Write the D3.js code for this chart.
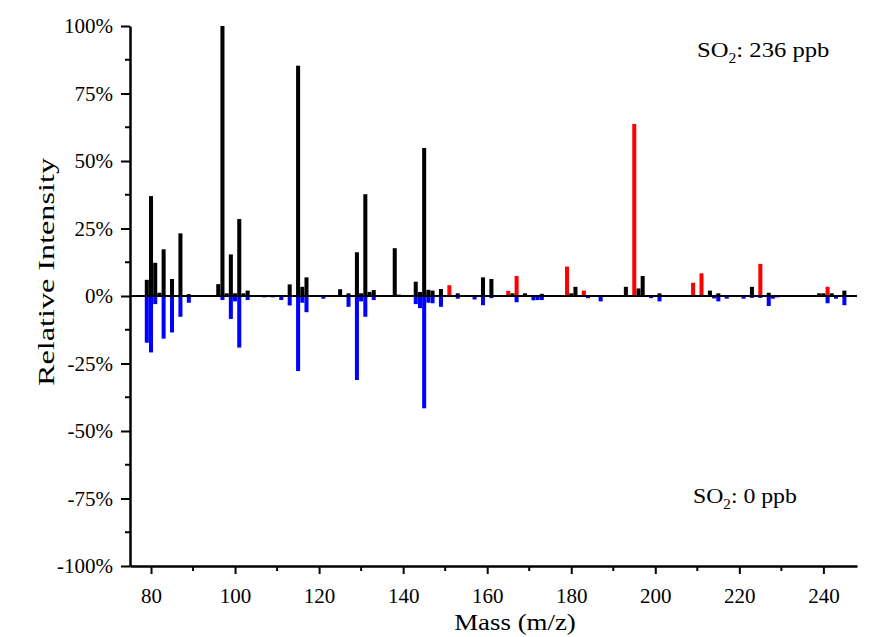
<!DOCTYPE html>
<html>
<head>
<meta charset="utf-8">
<script src="https://cdn.jsdelivr.net/npm/d3@7"></script>
<style>
  body { margin: 0; background: #fff; }
  text { font-family: "Liberation Serif", "Times New Roman", serif; fill: #000; }
</style>
</head>
<body>
<div id="vis"></div>
<script>
// mass spectra, relative intensity in %
// SO2 236 ppb, black peaks
let blackMass = [79, 80, 81, 82, 83, 85, 87, 89, 96, 97, 98, 99, 100, 101, 102, 103,
  113, 115, 116, 117, 125, 127, 129, 130, 131, 132, 133, 138, 139, 143, 144, 145, 146, 147, 149,
  153, 159, 161, 166, 169, 173, 180, 181, 193, 196, 197, 201, 213, 215, 223, 227, 239, 240, 242, 245]
let blackVal = [6, 37, 12.3, 1.2, 17.3, 6.3, 23.2, 0.7, 4.4, 100, 1, 15.4, 1, 28.5, 1, 2,
  4.3, 85.3, 3.4, 6.9, 2.5, 1, 16.2, 1, 37.7, 1.5, 2.2, 17.7, 0.5, 5.3, 1.5, 54.8, 2.3, 2, 2.6,
  1, 6.9, 6.3, 1, 1, 0.8, 1, 3.4, 3.4, 2.8, 7.4, 1, 2, 1, 3.4, 1.2, 1, 1, 1, 2]
// SO2 236 ppb, red peaks (new)
let redMass = [151, 165, 167, 179, 183, 195, 209, 211, 225, 241]
let redVal = [4, 1.9, 7.4, 10.9, 2, 63.7, 4.9, 8.4, 11.9, 3.4]
// SO2 0 ppb, blue peaks (plotted downward)
let blueMass = [79, 80, 81, 83, 85, 87, 89, 93, 97, 99, 100, 101, 103, 107, 109, 111, 113, 115, 116, 117,
  121, 127, 129, 130, 131, 133, 143, 144, 145, 146, 147, 149, 153, 157, 159, 161, 167, 171, 172, 173,
  184, 187, 199, 201, 214, 215, 217, 221, 223, 225, 227, 228, 229, 233, 239, 241, 243, 245]
let blueVal = [-17.3, -20.9, -3, -15.8, -13.5, -7.7, -2.5, -0.3, -1.5, -8.5, -2, -19.1, -1.5, -0.5, -0.5, -1.5, -3.5, -27.8, -2.5, -6,
  -1, -4, -31.1, -2, -7.7, -1.5, -3, -4.5, -41.6, -2.5, -2.7, -4, -1, -1.3, -3.4, -0.8, -2.3, -1.6, -1.5, -1.5,
  -0.8, -2, -0.8, -2, -0.9, -2, -1, -1, -0.7, -0.7, -3.7, -1, -0.5, -0.3, -0.3, -2.7, -1, -3.4]

let xTicks = [80, 100, 120, 140, 160, 180, 200, 220, 240]
let yTicks = [-100, -75, -50, -25, 0, 25, 50, 75, 100]

let margin = { top: 26, left: 130, right: 20, bottom: 71 },
  width = 877 - margin.left - margin.right,
  height = 637 - margin.top - margin.bottom

let svg = d3.select('#vis')
  .append('svg')
  .attr('width', 877)
  .attr('height', 637)
  .style('background-color', '#fff')

let g = svg.append('g')
  .attr('transform', 'translate(' + margin.left + ',' + margin.top + ')')

let xScale = d3.scaleLinear().domain([75, 248]).range([0, width])
let yScale = d3.scaleLinear().domain([-100, 100]).range([height, 0])

function drawBars(mass, vals, color) {
  let data = mass.map(function (m, i) { return { m: m, v: vals[i] } })
  g.append('g').selectAll('rect')
    .data(data)
    .enter()
    .append('rect')
      .attr('x', function (d) { return xScale(d.m - 0.48) })
      .attr('width', function (d) { return xScale(d.m + 0.48) - xScale(d.m - 0.48) })
      .attr('y', function (d) { return yScale(Math.max(0, d.v)) })
      .attr('height', function (d) { return Math.abs(yScale(d.v) - yScale(0)) })
      .attr('fill', color)
}
drawBars(blueMass, blueVal, '#0000ff')
drawBars(blackMass, blackVal, '#000000')
drawBars(redMass, redVal, '#ff0000')

// zero line
g.append('line')
  .attr('x1', 0).attr('x2', width)
  .attr('y1', yScale(0)).attr('y2', yScale(0))
  .attr('stroke', '#000').attr('stroke-width', 2)

// minor ticks
let xMinor = d3.range(90, 248, 20)
let yMinor = d3.range(-87.5, 100, 25)

let xAxis = g.append('g')
  .attr('transform', 'translate(0,' + height + ')')
  .call(d3.axisBottom(xScale).tickValues(xTicks).tickSize(8).tickPadding(14).tickSizeOuter(0))
xAxis.selectAll('.minor')
  .data(xMinor).enter()
  .append('line')
    .attr('x1', function (d) { return xScale(d) }).attr('x2', function (d) { return xScale(d) })
    .attr('y1', 0).attr('y2', 5)
    .attr('stroke', '#000').attr('stroke-width', 2)

let yAxis = g.append('g')
  .call(d3.axisLeft(yScale).tickValues(yTicks).tickSize(9).tickPadding(8).tickSizeOuter(0)
    .tickFormat(function (d) { return d + '%' }))
yAxis.selectAll('.minor')
  .data(yMinor).enter()
  .append('line')
    .attr('x1', -5).attr('x2', 0)
    .attr('y1', function (d) { return yScale(d) }).attr('y2', function (d) { return yScale(d) })
    .attr('stroke', '#000').attr('stroke-width', 2)

svg.selectAll('.domain').attr('stroke', '#000').attr('stroke-width', 2.5)
svg.selectAll('.tick line').attr('stroke', '#000').attr('stroke-width', 2)
svg.selectAll('.tick text')
  .style('font-family', '"Liberation Serif", serif')
  .style('font-size', '21px')

// axis labels (slightly stretched like the original)
svg.append('text')
  .attr('transform', 'translate(515,630) scale(1.12,1)')
  .style('text-anchor', 'middle')
  .style('font-size', '24px')
  .text('Mass (m/z)')

svg.append('text')
  .attr('transform', 'translate(54,272) rotate(-90)')
  .style('text-anchor', 'middle')
  .style('font-size', '24px')
  .attr('textLength', 228)
  .attr('lengthAdjust', 'spacingAndGlyphs')
  .text('Relative Intensity')

// annotations
function so2Label(x, y, rest, sx) {
  let t = svg.append('text')
    .attr('transform', 'translate(' + x + ',' + y + ') scale(' + sx + ',1)')
    .style('font-size', '22px')
  t.append('tspan').text('SO')
  t.append('tspan').attr('dy', 6).style('font-size', '14px').text('2')
  t.append('tspan').attr('dy', -6).text(rest)
}
so2Label(697, 57, ': 236 ppb', 1.12)
so2Label(693, 503, ': 0 ppb', 1.08)
</script>
</body>
</html>
